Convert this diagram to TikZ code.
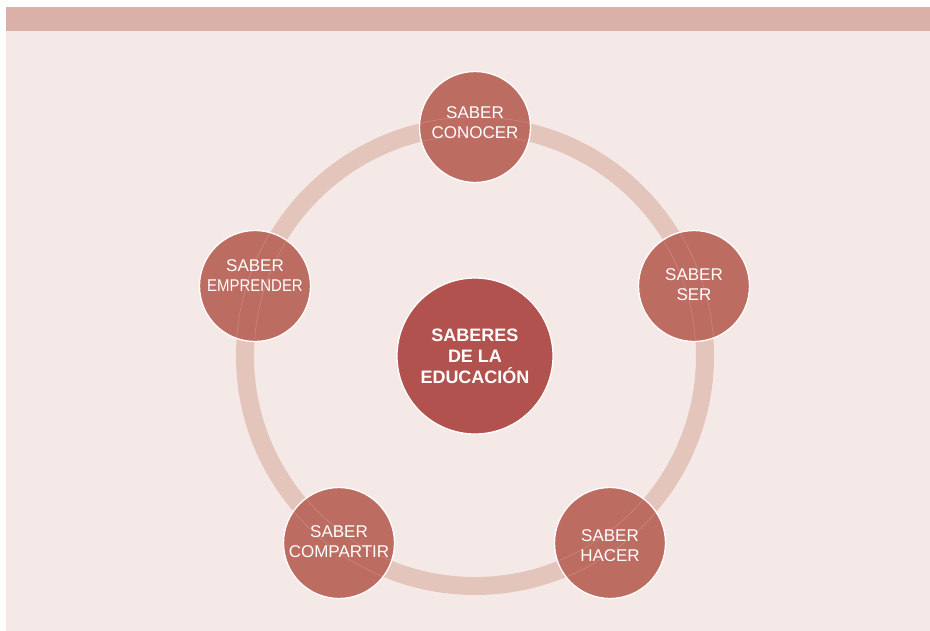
\documentclass[tikz,border=0pt]{standalone}
\usepackage{fontspec}
\setmainfont{Liberation Sans}
\usepackage{tikz}
\usetikzlibrary{calc,positioning}
\definecolor{bandpink}{HTML}{DBB0A6}
\definecolor{bgpink}{HTML}{F5E9E7}
\definecolor{ringpink}{HTML}{E3C5BB}
\definecolor{saberred}{HTML}{BD6C61}
\definecolor{hubred}{HTML}{B2524E}
\begin{document}
\begin{tikzpicture}[x=1pt,y=-1pt]
	\tikzstyle{saber} = [circle,draw=white,line width=1.3pt,fill=saberred,minimum size=111pt,inner sep=0pt]
	\tikzstyle{sabertext} = [text=white,inner sep=0pt,align=center,font=\fontsize{17}{20}\selectfont]
	\tikzstyle{hub} = [circle,draw=white,line width=1.3pt,fill=hubred,text=white,minimum size=156pt,inner sep=0pt,align=center,font=\fontsize{18}{21}\selectfont\bfseries]
	\tikzstyle{seam} = [white,opacity=0.22,line width=0.5pt]
	\useasboundingbox (0,0) rectangle (930,630);
	% background and top band
	\fill[bgpink] (6,7) rectangle (936,636);
	\fill[bandpink] (6,7) rectangle (936,31);
	
	\node[hub] (S0) at (475,356) {SABERES\\DE LA\\EDUCACIÓN};
	% ring behind the five saberes
	\draw[ringpink,line width=18pt] (S0.center) circle (230);
	
	\node[saber] (S1) at (475,127) {};
	\node[saber] (S2) at (694,286) {};
	\node[saber] (S3) at (610,543) {};
	\node[saber] (S4) at (339,543) {};
	\node[saber] (S5) at (255,286) {};
	% faint ring edges seen through the circles
	\foreach \s in {S1,S2,S3,S4,S5}{
		\begin{scope}
			\clip (\s.center) circle (54);
			\draw[seam] (S0.center) circle (221) (S0.center) circle (239);
		\end{scope}
	}
	
	\node[sabertext] (T1) at ($(S1)+(0,-4)$) {SABER\\CONOCER};
	\node[sabertext] (T2) at ($(S2)+(0,-1)$) {SABER\\SER};
	\node[sabertext] (T3) at ($(S3)+(0,3)$) {SABER\\HACER};
	\node[sabertext] (T4) at ($(S4)+(0,-1)$) {SABER\\COMPARTIR};
	\node[sabertext] (T5) at ($(S5)+(0,-10)$) {SABER\\\scalebox{0.88}[1]{EMPRENDER}};
\end{tikzpicture}
\end{document}
